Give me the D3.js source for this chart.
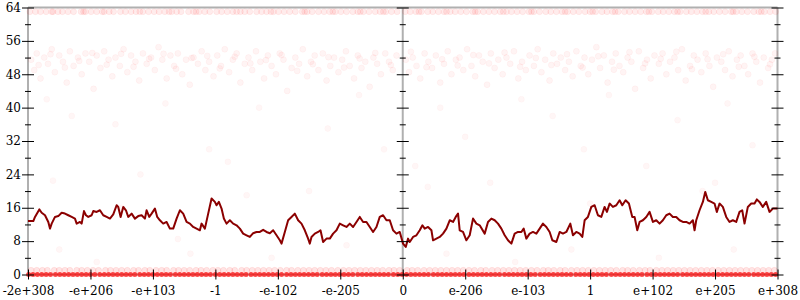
<!DOCTYPE html>
<html>
<head>
<meta charset="utf-8">
<script src="https://cdn.jsdelivr.net/npm/d3@7"></script>
<style>
  body { margin: 0; background: #fff; }
  svg text { font-family: "DejaVu Serif", serif; font-size: 12px; fill: #000; }
</style>
</head>
<body>
<svg id="chart"></svg>
<script>
const width = 800, height = 300;

// x ticks live on the flonum-ordinal axis, one unit per tick
const xTickPos = [-6, -5, -4, -3, -2, -1, 0, 1, 2, 3, 4, 5, 6];
const xTickLabels = ["-2e+308", "-e+206", "-e+103", "-1", "-e-102", "-e-205", "0",
                     "e-206", "e-103", "1", "e+102", "e+205", "e+308"];
const yMajor = [0, 8, 16, 24, 32, 40, 48, 56, 64];
const yMinor = [4, 12, 20, 28, 36, 44, 52, 60];

// running mean (ordinal, value)
const lineX = [-6.000,-5.915,-5.888,-5.819,-5.781,-5.728,-5.675,-5.648,-5.621,-5.568,-5.515,-5.461,-5.408,-5.355,-5.301,-5.248,-5.221,-5.168,-5.141,-5.104,-5.072,-5.035,-4.981,-4.955,-4.901,-4.848,-4.795,-4.741,-4.688,-4.635,-4.581,-4.555,-4.517,-4.475,-4.432,-4.395,-4.341,-4.288,-4.235,-4.181,-4.128,-4.101,-4.059,-4.021,-3.968,-3.931,-3.888,-3.835,-3.781,-3.728,-3.675,-3.621,-3.568,-3.515,-3.461,-3.408,-3.355,-3.301,-3.248,-3.221,-3.168,-3.115,-3.061,-3.008,-2.981,-2.944,-2.901,-2.864,-2.821,-2.768,-2.715,-2.661,-2.608,-2.555,-2.501,-2.448,-2.395,-2.341,-2.288,-2.235,-2.181,-2.128,-2.075,-2.021,-1.968,-1.941,-1.888,-1.835,-1.781,-1.728,-1.675,-1.621,-1.568,-1.515,-1.488,-1.461,-1.408,-1.355,-1.317,-1.275,-1.221,-1.168,-1.115,-1.061,-1.008,-0.955,-0.901,-0.848,-0.795,-0.741,-0.688,-0.635,-0.581,-0.528,-0.475,-0.421,-0.368,-0.315,-0.261,-0.208,-0.155,-0.101,-0.048,
  0.005,0.048,0.085,0.112,0.165,0.219,0.272,0.315,0.352,0.405,0.459,0.485,0.539,0.592,0.645,0.699,0.752,0.805,0.848,0.885,0.912,0.965,1.019,1.072,1.125,1.179,1.232,1.312,1.365,1.419,1.472,1.525,1.579,1.632,1.685,1.739,1.792,1.845,1.899,1.936,1.979,2.032,2.085,2.139,2.192,2.245,2.299,2.352,2.395,2.459,2.512,2.565,2.619,2.683,2.725,2.779,2.832,2.875,2.912,2.965,3.019,3.072,3.125,3.179,3.232,3.269,3.312,3.365,3.419,3.472,3.515,3.568,3.621,3.675,3.712,3.755,3.792,3.845,3.899,3.952,4.005,4.059,4.112,4.165,4.219,4.272,4.325,4.379,4.432,4.485,4.539,4.592,4.645,4.672,4.699,4.752,4.805,4.843,4.885,4.939,4.992,5.029,5.072,5.125,5.179,5.232,5.285,5.339,5.392,5.435,5.472,5.525,5.579,5.632,5.669,5.712,5.765,5.819,5.872,5.925,6.000];
const lineY = [12.8,12.8,13.8,15.6,14.8,14.2,12.6,11.0,12.2,13.8,14.0,14.8,14.6,14.2,13.8,13.4,12.2,12.6,12.2,15.2,14.2,13.8,14.2,15.2,15.0,15.4,14.2,13.8,13.4,14.4,16.6,16.2,13.8,16.2,15.4,13.8,14.6,13.4,14.0,14.2,13.4,15.4,13.8,14.6,15.8,13.8,13.0,12.2,12.6,11.0,11.0,13.4,15.4,14.6,12.6,12.2,11.4,11.0,10.6,12.2,11.0,14.6,18.2,17.4,16.6,17.4,15.8,13.4,12.2,13.0,12.2,11.8,11.0,9.8,9.4,9.0,9.9,10.2,10.2,10.7,10.2,9.9,10.6,9.4,8.2,7.4,10.2,13.0,13.8,14.6,13.0,12.2,10.6,8.6,7.4,9.0,9.8,10.2,10.6,7.8,8.6,8.6,9.8,10.6,12.2,11.8,11.4,12.2,11.4,12.6,13.8,12.6,12.6,11.4,10.2,11.4,13.8,14.2,13.0,13.0,10.6,9.8,10.2,
  7.4,6.6,8.6,7.8,9.0,9.4,10.6,11.8,11.0,11.4,10.6,8.2,8.6,9.0,9.8,11.0,13.0,12.6,13.8,14.6,10.6,10.2,8.2,9.4,13.4,12.2,11.8,9.8,12.6,13.4,13.0,12.2,11.0,9.4,8.2,7.4,9.8,10.2,10.2,11.0,8.6,9.8,10.2,9.8,11.0,12.2,11.4,10.2,8.2,7.8,10.2,9.8,10.2,12.2,9.4,10.2,9.8,9.0,13.0,13.8,16.2,16.6,14.2,13.8,16.2,15.0,17.0,16.2,16.6,17.8,16.6,17.8,17.0,13.8,13.8,10.6,12.6,13.0,13.8,15.0,12.6,13.0,12.2,13.0,14.2,14.6,13.8,13.8,13.0,12.6,12.6,12.2,13.0,10.6,13.0,15.4,17.4,19.8,17.8,17.4,17.0,15.0,17.0,16.2,13.8,12.6,13.0,12.6,15.0,15.4,12.2,16.2,17.0,17.0,18.0,17.4,16.2,17.4,15.0,15.8,15.8];

// individual samples
const rowTopX = [-5.97,-5.88,-5.80,-5.71,-5.60,-5.52,-5.45,-5.36,-5.27,-5.15,-5.08,-4.99,-4.90,-4.78,-4.70,-4.63,-4.52,-4.44,-4.35,-4.27,-4.16,-4.07,-3.98,-3.90,-3.81,-3.70,-3.62,-3.55,-3.43,-3.35,-3.26,-3.17,-3.09,-2.98,-2.90,-2.81,-2.72,-2.60,-2.53,-2.45,-2.34,-2.26,-2.18,-2.07,-1.99,-1.90,-1.81,-1.72,-1.61,-1.53,-1.45,-1.35,-1.26,-1.17,-1.08,-0.99,-0.90,-0.80,-0.72,-0.63,-0.54,-0.44,-0.36,-0.27,-0.18,-0.09,0.04,0.12,0.21,0.30,0.40,0.48,0.57,0.66,0.76,0.84,0.93,1.02,1.12,1.20,1.29,1.38,1.47,1.56,1.66,1.74,1.83,1.92,2.02,2.10,2.19,2.29,2.37,2.46,2.55,2.64,2.73,2.82,2.92,3.00,3.09,3.19,3.27,3.36,3.45,3.55,3.63,3.72,3.81,3.90,3.99,4.09,4.17,4.26,4.35,4.44,4.54,4.62,4.71,4.80,4.90,4.98,5.07,5.16,5.26,5.34,5.43,5.52,5.62,5.70,5.79,5.88,5.97,
  -5.62,-5.11,-4.81,-4.21,-3.74,-3.31,-2.66,-2.11,-1.57,-1.12,-0.68,-0.31,0.26,0.70,1.16,1.61,2.06,2.60,3.04,3.40,3.94,4.40,4.85,5.29,5.74];
const rowOneX = [-5.95,-5.86,-5.77,-5.69,-5.58,-5.50,-5.41,-5.33,-5.22,-5.14,-5.05,-4.96,-4.87,-4.76,-4.68,-4.59,-4.50,-4.41,-4.31,-4.23,-4.13,-4.05,-3.95,-3.86,-3.78,-3.67,-3.59,-3.50,-3.41,-3.31,-3.23,-3.14,-3.04,-2.96,-2.87,-2.77,-2.69,-2.58,-2.50,-2.41,-2.32,-2.23,-2.14,-2.05,-1.96,-1.86,-1.78,-1.68,-1.59,-1.50,-1.41,-1.32,-1.23,-1.14,-1.04,-0.95,-0.86,-0.77,-0.68,-0.59,-0.50,-0.41,-0.32,-0.22,-0.14,-0.05,0.07,0.15,0.24,0.34,0.43,0.52,0.61,0.70,0.79,0.88,0.97,1.06,1.15,1.25,1.33,1.43,1.52,1.61,1.70,1.79,1.88,1.97,2.06,2.15,2.25,2.33,2.42,2.52,2.60,2.70,2.79,2.88,2.97,3.06,3.15,3.24,3.33,3.42,3.52,3.60,3.69,3.79,3.88,3.96,4.06,4.15,4.24,4.33,4.42,4.51,4.60,4.69,4.78,4.87,4.96,5.05,5.14,5.23,5.32,5.41,5.50,5.59,5.68,5.77,5.86,5.95];
const rowZeroX = [-5.99,-5.92,-5.85,-5.78,-5.71,-5.64,-5.56,-5.49,-5.42,-5.35,-5.28,-5.21,-5.14,-5.07,-5.00,-4.93,-4.85,-4.78,-4.71,-4.64,-4.57,-4.50,-4.43,-4.36,-4.29,-4.21,-4.14,-4.07,-4.00,-3.93,-3.86,-3.79,-3.72,-3.64,-3.57,-3.50,-3.43,-3.36,-3.29,-3.22,-3.15,-3.08,-3.00,-2.93,-2.86,-2.79,-2.72,-2.65,-2.58,-2.51,-2.43,-2.36,-2.29,-2.22,-2.15,-2.08,-2.01,-1.94,-1.86,-1.79,-1.72,-1.65,-1.58,-1.51,-1.44,-1.37,-1.29,-1.22,-1.15,-1.08,-1.01,-0.94,-0.87,-0.80,-0.72,-0.65,-0.58,-0.51,-0.44,-0.37,-0.30,-0.23,-0.15,-0.08,-0.01,0.06,0.13,0.20,0.27,0.34,0.41,0.49,0.56,0.63,0.70,0.77,0.84,0.91,0.98,1.06,1.13,1.20,1.27,1.34,1.41,1.48,1.55,1.63,1.70,1.77,1.84,1.91,1.98,2.05,2.12,2.20,2.27,2.34,2.41,2.48,2.55,2.62,2.69,2.77,2.84,2.91,2.98,3.05,3.12,3.19,3.26,3.34,3.41,3.48,3.55,3.62,3.69,3.76,3.83,3.91,3.98,4.05,4.12,4.19,4.26,4.33,4.40,4.48,4.55,4.62,4.69,4.76,4.83,4.90,4.97,5.05,5.12,5.19,5.26,5.33,5.40,5.47,5.54,5.62,5.69,5.76,5.83,5.90,5.97];
const bandPts = [[-5.95,51.5],[-5.90,49],[-5.86,53],[-5.80,47],[-5.74,52],[-5.68,50.5],[-5.62,54],[-5.57,48.5],[-5.50,52.5],[-5.44,51],[-5.38,46],[-5.33,53.5],[-5.27,50],[-5.20,52],[-5.14,48],[-5.08,53],[-5.02,51],[-4.95,44.5],[-4.90,52.5],[-4.84,49.5],[-4.78,53.5],[-4.71,51.5],[-4.65,47.5],[-4.60,52],[-4.53,50],[-4.47,54],[-4.41,48.5],[-4.35,52.5],[-4.28,51],[-4.22,46.5],[-4.16,53],[-4.10,50.5],[-4.03,52],[-3.97,49],[-3.91,54.5],[-3.85,51.5],[-3.78,47],[-3.72,52.5],[-3.66,50],[-3.60,53],[-3.53,48],[-3.47,51.5],[-3.41,45.5],[-3.35,52],[-3.28,50.5],[-3.22,53.5],[-3.16,49],[-3.10,51],[-3.03,47.5],[-2.97,52.5],[-2.91,50],[-2.85,54],[-2.78,48.5],[-2.72,51.5],[-2.66,53],[-2.60,46],[-2.53,50.5],[-2.47,52],[-2.41,49],[-2.35,53.5],[-2.28,51],[-2.22,47],[-2.16,52.5],[-2.10,50],[-2.03,48],[-1.97,53],[-1.91,51.5],[-1.85,44],[-1.78,49.5],[-1.72,52],[-1.66,50.5],[-1.60,54],[-1.53,47.5],[-1.47,51],[-1.41,52.5],[-1.35,49],[-1.28,53],[-1.22,46.5],[-1.16,50],[-1.10,52],[-1.03,48.5],[-0.97,51.5],[-0.91,53.5],[-0.85,50],[-0.78,47],[-0.72,52.5],[-0.66,49.5],[-0.60,51],[-0.53,45],[-0.47,52],[-0.41,50.5],[-0.35,48],[-0.28,53],[-0.22,51],[-0.16,49],[-0.10,52.5],[0.05,51.5],[0.10,48.5],[0.16,52],[0.22,50],[0.28,47],[0.35,53],[0.41,51],[0.47,49.5],[0.53,52.5],[0.60,46],[0.66,50.5],[0.72,53.5],[0.78,48],[0.85,51.5],[0.91,52],[0.97,49],[1.03,54],[1.10,50],[1.16,47.5],[1.22,52.5],[1.28,51],[1.35,45.5],[1.41,53],[1.47,49.5],[1.53,51.5],[1.60,48],[1.66,52],[1.72,50.5],[1.78,53.5],[1.85,47],[1.91,51],[1.97,49],[2.03,52.5],[2.10,50],[2.16,54],[2.22,48.5],[2.28,51.5],[2.35,46.5],[2.41,53],[2.47,50.5],[2.53,52],[2.60,49],[2.66,51],[2.72,47.5],[2.78,53.5],[2.85,50],[2.91,52],[2.97,48],[3.03,51.5],[3.10,54.5],[3.16,49.5],[3.22,52.5],[3.28,46],[3.35,51],[3.41,53],[3.47,50],[3.53,48.5],[3.60,52],[3.66,51],[3.72,44.5],[3.78,53.5],[3.85,49.5],[3.91,51.5],[3.97,47],[4.03,52.5],[4.10,50.5],[4.16,53],[4.22,48],[4.28,51],[4.35,52],[4.41,49],[4.47,54],[4.53,46.5],[4.60,50],[4.66,52.5],[4.72,51.5],[4.78,48.5],[4.85,53],[4.91,50],[4.97,45],[5.03,52],[5.10,51],[5.16,49],[5.22,53.5],[5.28,47.5],[5.35,51.5],[5.41,52.5],[5.47,50],[5.53,48],[5.60,53],[5.66,51],[5.72,46],[5.78,52],[5.85,49.5],[5.91,51.5],[5.96,53],
  [-5.83,50.2],[-5.64,52.8],[-5.41,49.6],[-5.18,51.2],[-4.97,53.1],[-4.74,50.3],[-4.51,52.9],[-4.31,49.8],[-4.06,51.7],[-3.83,52.9],[-3.63,49.3],[-3.38,51.9],[-3.13,52.4],[-2.93,49.4],[-2.69,52.2],[-2.44,50.6],[-2.19,51.4],[-1.94,52.6],[-1.69,48.8],[-1.44,50.4],[-1.19,52.1],[-0.94,49.6],[-0.69,51.8],[-0.44,53.1],[-0.19,50.2],[0.13,53.4],[0.38,49.7],[0.63,51.6],[0.88,50.1],[1.13,52.6],[1.38,50.6],[1.63,53.2],[1.88,49.8],[2.13,51.9],[2.38,50.2],[2.63,52.8],[2.88,49.6],[3.13,52.3],[3.38,49.1],[3.63,53.3],[3.88,50.6],[4.13,51.7],[4.38,53.4],[4.63,49.2],[4.88,51.6],[5.13,52.8],[5.38,49.8],[5.63,52.2],[5.88,50.4]];
const sparsePts = [[-5.70,42],[-5.30,38],[-4.60,36],[-4.20,24],[-3.80,41],[-3.10,30],[-2.80,27],[-2.30,40],[-1.50,20],[-1.20,35],[-0.70,43],[-0.30,30],[0.20,26],[0.60,40],[1.00,33],[1.40,22],[1.90,42],[2.40,38],[2.90,30],[3.30,43],[3.90,26],[4.40,37],[4.80,20],[5.20,41],[5.60,31],[-5.50,6],[-4.90,3],[-3.40,5],[-2.10,4],[-0.90,7],[0.70,5],[1.80,3],[2.70,6],[4.10,4],[5.30,6],[-4.50,16],[-2.50,19],[0.40,21],[3.00,17],[5.00,22],[-5.60,22.5],[-3.60,8.5]];

const svg = d3.select("#chart").attr("width", width).attr("height", height);

const x = d3.scaleLinear().domain([-6, 6]).range([28, 777.5]);
const y = d3.scaleLinear().domain([0, 64]).range([274.5, 7.5]);

const axisGray = "#b0b0b0";

// frame / axis lines
svg.append("line").attr("x1", x(-6)).attr("x2", x(6)).attr("y1", y(64)).attr("y2", y(64))
  .attr("stroke", axisGray).attr("stroke-width", 2);
svg.append("line").attr("x1", x(-6)).attr("x2", x(6)).attr("y1", y(0)).attr("y2", y(0))
  .attr("stroke", axisGray).attr("stroke-width", 2);
[-6, 0, 6].forEach(v => {
  svg.append("line").attr("x1", x(v)).attr("x2", x(v)).attr("y1", y(0)).attr("y2", y(64))
    .attr("stroke", axisGray).attr("stroke-width", 2);
});

// points
const dots = svg.append("g").attr("fill", "red").attr("stroke", "red");
function addDots(pts, r, fo, so) {
  dots.append("g").selectAll("circle").data(pts).join("circle")
    .attr("cx", d => x(d[0])).attr("cy", d => y(d[1])).attr("r", r)
    .attr("fill-opacity", fo).attr("stroke-opacity", so).attr("stroke-width", 0.7);
}
addDots(bandPts, 3, 0.045, 0.05);
addDots(sparsePts, 3, 0.035, 0.04);
addDots(rowTopX.map(v => [v, 63]), 3, 0.075, 0.08);
addDots(rowOneX.map(v => [v, 1]), 3, 0.1, 0.1);
addDots(rowZeroX.map(v => [v, 0]), 2.5, 0.7, 0);

// running mean
const line = d3.line().x(d => x(d[0])).y(d => y(d[1]));
svg.append("path").datum(lineX.map((v, i) => [v, lineY[i]]))
  .attr("d", line).attr("fill", "none").attr("stroke", "#8b0000")
  .attr("stroke-width", 2).attr("stroke-linejoin", "round");

// ticks crossing the axis lines
function crossTicks(g, len) {
  g.select(".domain").remove();
  g.selectAll(".tick line").attr("stroke", "#000").attr("x1", -len).attr("x2", len);
}

const yLeft = svg.append("g").attr("transform", `translate(${x(-6)},0)`)
  .call(d3.axisLeft(y).tickValues(yMajor).tickSize(6).tickPadding(1));
crossTicks(yLeft, 6);
yLeft.selectAll("text").attr("font-family", null).attr("font-size", null);

const yLeftMinor = svg.append("g").attr("transform", `translate(${x(-6)},0)`)
  .call(d3.axisLeft(y).tickValues(yMinor).tickFormat(""));
crossTicks(yLeftMinor, 3);

[0, 6].forEach(v => {
  const gMaj = svg.append("g").attr("transform", `translate(${x(v)},0)`)
    .call(d3.axisRight(y).tickValues(yMajor).tickFormat(""));
  crossTicks(gMaj, 6);
  const gMin = svg.append("g").attr("transform", `translate(${x(v)},0)`)
    .call(d3.axisRight(y).tickValues(yMinor).tickFormat(""));
  crossTicks(gMin, 3);
});

const xAxis = svg.append("g").attr("transform", `translate(0,${y(0)})`)
  .call(d3.axisBottom(x).tickValues(xTickPos).tickFormat((d, i) => xTickLabels[i]));
xAxis.select(".domain").remove();
xAxis.selectAll(".tick line").attr("stroke", "#000").attr("y1", -5).attr("y2", 5);
xAxis.selectAll("text").attr("font-family", null).attr("font-size", null)
  .attr("y", 20).attr("dy", 0);
</script>
</body>
</html>
